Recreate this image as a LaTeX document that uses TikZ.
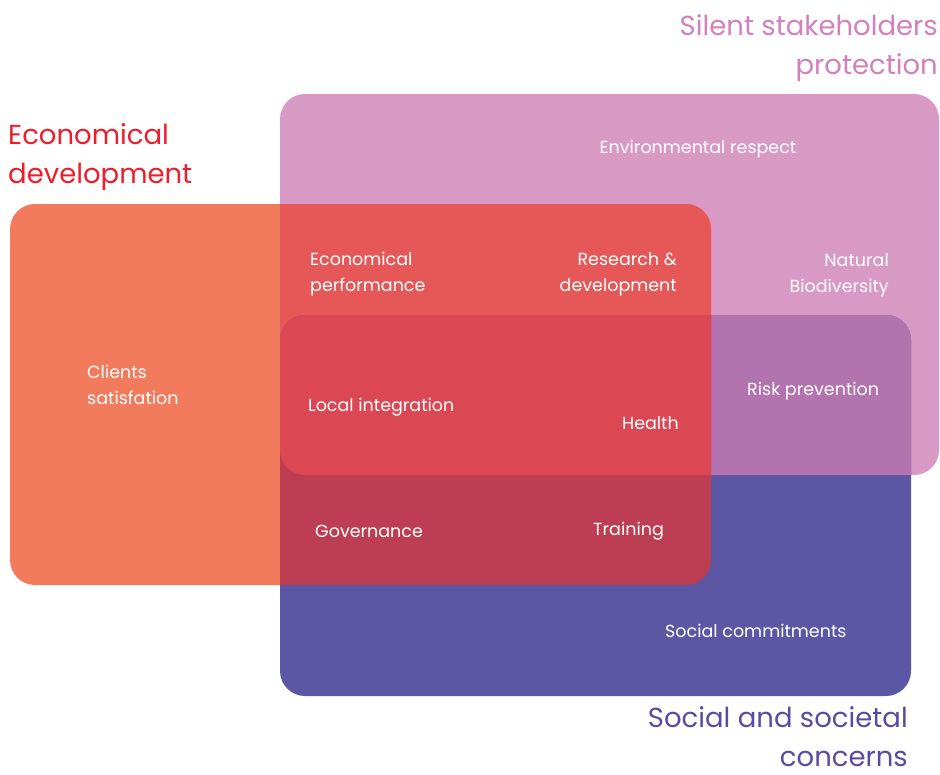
\documentclass[tikz,border=0pt]{standalone}
\usepackage{fontspec}
\setmainfont{Poppins}
\definecolor{cOr}{HTML}{F27B5D}
\definecolor{cPk}{HTML}{D999C5}
\definecolor{cBl}{HTML}{5B57A5}
\definecolor{cOP}{HTML}{E65858}
\definecolor{cPB}{HTML}{B373AE}
\definecolor{cOB}{HTML}{BD3E52}
\definecolor{cAll}{HTML}{DB4753}
\definecolor{tRed}{HTML}{EE1D2B}
\definecolor{tPink}{HTML}{D480BA}
\definecolor{tPur}{HTML}{5B4AA2}
\tikzset{
  rc/.style={rounded corners=25pt},
  lbl/.style={text=white, inner sep=0pt, font=\fontsize{17.5}{26}\selectfont},
  ttl/.style={inner sep=0pt, font=\fontsize{27.5}{39}\selectfont},
}
\begin{document}
\begin{tikzpicture}[x=1pt,y=-1pt]
\useasboundingbox (0,0) rectangle (940,774);
% base sets
\fill[cPk, rc] (280,94) rectangle (939,475);
\fill[cOr, rc] (10,204) rectangle (711,585);
\fill[cBl, rc] (280,315) rectangle (911,696);
% pairwise overlaps
\begin{scope}
  \clip[rc] (280,94) rectangle (939,475);
  \fill[cOP, rc] (10,204) rectangle (711,585);
  \fill[cPB, rc] (280,315) rectangle (911,696);
\end{scope}
\begin{scope}
  \clip[rc] (10,204) rectangle (711,585);
  \fill[cOB, rc] (280,315) rectangle (911,696);
\end{scope}
% triple overlap
\begin{scope}
  \clip[rc] (280,94) rectangle (939,475);
  \clip[rc] (10,204) rectangle (711,585);
  \fill[cAll, rc] (280,315) rectangle (911,696);
\end{scope}
% titles
\node[ttl, text=tRed, align=left, anchor=base west] (eco) at (8,183) {Economical\\development};
\node[ttl, text=tPink, align=right, anchor=base east] (silent) at (938,74) {Silent stakeholders\\protection};
\node[ttl, text=tPur, align=right, anchor=base east] (social) at (908,766) {Social and societal\\concerns};
% labels
\node[lbl, anchor=center] (env) at (698,149) {Environmental respect};
\node[lbl, align=left, anchor=west] (ecoperf) at (310,274) {Economical\\performance};
\node[lbl, align=right, anchor=east] (rd) at (677,274) {Research \&\\development};
\node[lbl, align=right, anchor=east] (nat) at (889,275) {Natural\\Biodiversity};
\node[lbl, align=left, anchor=west] (cli) at (87,385) {Clients\\satisfation};
\node[lbl, anchor=west] (loc) at (308,407) {Local integration};
\node[lbl, anchor=east] (hea) at (679,423) {Health};
\node[lbl, anchor=west] (risk) at (747,391) {Risk prevention};
\node[lbl, anchor=west] (gov) at (315,531) {Governance};
\node[lbl, anchor=west] (tra) at (593,531) {Training};
\node[lbl, anchor=west] (soc) at (665,631) {Social commitments};
\end{tikzpicture}
\end{document}
